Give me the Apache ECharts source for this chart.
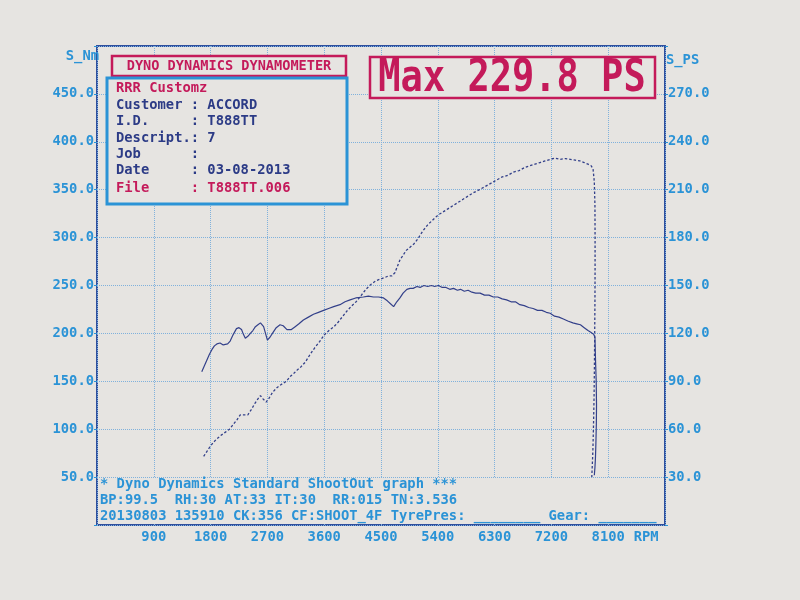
<!DOCTYPE html>
<html><head><meta charset="utf-8">
<script src="https://cdn.jsdelivr.net/npm/echarts@6/dist/echarts.min.js"></script>
<style>html,body{margin:0;padding:0;background:#e6e4e1}#c{width:800px;height:600px}</style>
</head><body><div id="c"></div>
<script>
// ---- data read from the dyno sheet ----
const torqueRpm = [
  1660,1700,1740,1780,1820,1860,1900,1950,2000,2030,
  2070,2110,2160,2210,2250,2290,2320,2350,2390,2430,
  2470,2510,2550,2590,2620,2640,2670,2700,2740,2790,
  2840,2900,2950,2980,3010,3040,3080,3140,3200,3270,
  3350,3430,3510,3590,3670,3750,3850,3930,4010,4100,
  4220,4300,4380,4460,4540,4600,4650,4700,4750,4800,
  4850,4910,4960,5010,5070,5120,5180,5240,5300,5350,
  5410,5470,5530,5590,5650,5710,5760,5820,5880,5940,
  6000,6070,6140,6210,6280,6350,6420,6490,6560,6630,
  6700,6770,6840,6910,6980,7050,7120,7180,7250,7320,
  7390,7460,7540,7600,7660,7720,7780,7830,7870,7890,
  7900,7910,7915,7912,7905,7898,7890,7880
];
const torqueNm = [
  160,166,172,178,183,187,189,190,188,187,
  189,192,199,205,206,204,199,195,197,200,
  203,207,209,211,210,207,200,193,196,201,
  206,209,208,207,204,202,204,207,210,214,
  217,220,222,224,226,228,230,233,235,237,
  238,239,238,238,237,234,231,228,233,237,
  242,246,247,247,249,248,250,249,250,249,
  250,248,248,246,247,245,246,244,245,243,
  242,242,240,240,238,238,236,235,233,233,
  230,229,227,226,224,224,222,221,218,217,
  215,213,211,210,209,206,203,201,199,196,
  170,150,125,105,85,70,60,52
];
const powerRpm = [
  1690,1740,1790,1850,1900,1960,2030,2100,2160,2220,
  2270,2330,2390,2440,2500,2550,2590,2630,2680,2720,
  2780,2850,2920,3000,3060,3120,3170,3230,3300,3380,
  3450,3530,3600,3680,3750,3820,3900,3960,4030,4110,
  4190,4270,4350,4420,4490,4560,4620,4670,4720,4760,
  4800,4850,4900,4960,5020,5080,5160,5240,5320,5400,
  5480,5560,5640,5720,5800,5880,5960,6060,6150,6240,
  6330,6420,6510,6600,6690,6780,6860,6940,7020,7100,
  7180,7260,7340,7420,7500,7580,7650,7720,7780,7830,
  7860,7880,7890,7892,7892,7890,7886,7882,7876,7866,
  7856,7840
];
const powerPs = [
  43,46,49,52,54,56,58,60,63,66,
  69,69,69,72,76,79,81,79,77,79,
  83,86,88,90,93,95,97,99,102,107,
  111,115,119,122,124,127,131,134,137,140,
  144,148,151,153,154,155,156,156,158,162,
  166,169,172,174,176,179,184,188,191,194,
  196,198,200,202,204,206,208,210,212,214,
  216,218,219,221,222,224,225,226,227,228,
  229,229.8,229,229.5,229,228.5,228,227,226,225,
  223,215,200,180,160,140,120,100,80,60,
  45,30
];
const infoLines = [
  ['RRR Customz', 'red'],
  ['Customer : ACCORD', 'navy'],
  ['I.D.     : T888TT', 'navy'],
  ['Descript.: 7', 'navy'],
  ['Job      :', 'navy'],
  ['Date     : 03-08-2013', 'navy'],
  ['File     : T888TT.006', 'red']
];
const footerLines = [
  '* Dyno Dynamics Standard ShootOut graph ***',
  'BP:99.5  RH:30 AT:33 IT:30  RR:015 TN:3.536',
  '20130803 135910 CK:356 CF:SHOOT_4F TyrePres: ________ Gear: _______'
];
const titleText = 'DYNO DYNAMICS DYNAMOMETER';
const maxText = 'Max 229.8 PS';

// ---- styles ----
const PAPER = '#e6e4e1';
const CYAN = '#2b93d6';
const RED = '#c41a5a';
const NAVY = '#2c3b86';
const FRAME = '#2f4f9e';
const GRID = '#80b1dc';
const INK = '#33408a';
const MONO = '"DejaVu Sans Mono", monospace';
const f = (s, b) => (b ? 'bold ' : '') + s + 'px ' + MONO;

const chart = echarts.init(document.getElementById('c'), null, {renderer: 'canvas'});
const labelStyle = {color: CYAN, fontFamily: MONO, fontSize: 13.8, fontWeight: 'bold'};

chart.setOption({
  backgroundColor: PAPER,
  animation: false,
  grid: {left: 97, right: 135, top: 46, bottom: 75, show: true, borderColor: FRAME, borderWidth: 2, backgroundColor: 'transparent'},
  xAxis: {
    type: 'value', min: 0, max: 9000, interval: 900,
    axisLine: {show: false}, axisTick: {show: false},
    splitLine: {show: true, lineStyle: {color: GRID, type: 'dotted', width: 1}},
    axisLabel: Object.assign({margin: 5, formatter: v => (v === 0 || v === 9000) ? '' : String(v)}, labelStyle)
  },
  yAxis: [
    {
      type: 'value', min: 0, max: 500, interval: 50, position: 'left',
      axisLine: {show: false},
      axisTick: {show: true, length: 3, lineStyle: {color: CYAN}},
      splitLine: {show: true, lineStyle: {color: GRID, type: 'dotted', width: 1}},
      axisLabel: Object.assign({margin: 3, formatter: v => (v === 0 || v === 500) ? '' : v.toFixed(1)}, labelStyle)
    },
    {
      type: 'value', min: 0, max: 300, interval: 30, position: 'right',
      axisLine: {show: false},
      axisTick: {show: true, length: 3, lineStyle: {color: CYAN}},
      splitLine: {show: false},
      axisLabel: Object.assign({margin: 3, formatter: v => (v === 0 || v === 300) ? '' : v.toFixed(1)}, labelStyle)
    }
  ],
  series: [
    {
      name: 'S_Nm', type: 'line', yAxisIndex: 0, showSymbol: false, symbol: 'none',
      data: torqueRpm.map((r, i) => [r, torqueNm[i]]),
      lineStyle: {color: INK, width: 1.2}, z: 5
    },
    {
      name: 'S_PS', type: 'line', yAxisIndex: 1, showSymbol: false, symbol: 'none',
      data: powerRpm.map((r, i) => [r, powerPs[i]]),
      lineStyle: {color: INK, width: 1.3, type: [2.5, 2]}, z: 5
    }
  ]
});

// ---- annotations ----
const x0 = chart.convertToPixel({xAxisIndex: 0}, 0);
const x1 = chart.convertToPixel({xAxisIndex: 0}, 9000);
const y50 = chart.convertToPixel({yAxisIndex: 0}, 50);
const y0 = chart.convertToPixel({yAxisIndex: 0}, 0);
const yTop = chart.convertToPixel({yAxisIndex: 0}, 500);
const x8100 = chart.convertToPixel({xAxisIndex: 0}, 8100);

const g = [];
// footer box
g.push({type: 'rect', z: 100, shape: {x: x0 + 1.5, y: y50 + 1, width: x1 - x0 - 3, height: y0 - y50 - 2.5}, style: {fill: PAPER, stroke: null}});
footerLines.forEach((t, i) => {
  g.push({type: 'text', z: 102, style: {text: t, x: x0 + 3, y: y50 + 7.5 + i * 16, font: f(13.8, true), fill: CYAN, align: 'left', verticalAlign: 'middle'}});
});
// title box
g.push({type: 'rect', z: 100, shape: {x: 112, y: 56, width: 234, height: 20}, style: {fill: PAPER, stroke: RED, lineWidth: 2.5}});
g.push({type: 'text', z: 101, style: {text: titleText, x: 229, y: 66.5, font: f(13.6, true), fill: RED, align: 'center', verticalAlign: 'middle'}});
// info box
g.push({type: 'rect', z: 100, shape: {x: 107, y: 78, width: 240, height: 126}, style: {fill: PAPER, stroke: CYAN, lineWidth: 3}});
const infoY = [88, 105, 121, 138, 154, 170, 188];
infoLines.forEach((l, i) => {
  g.push({type: 'text', z: 101, style: {text: l[0], x: 116, y: infoY[i], font: f(13.8, true), fill: l[1] === 'red' ? RED : NAVY, align: 'left', verticalAlign: 'middle'}});
});
// max box
g.push({type: 'rect', z: 100, shape: {x: 370, y: 57, width: 285, height: 41}, style: {fill: PAPER, stroke: RED, lineWidth: 2.5}});
g.push({type: 'text', z: 101, x: 512, y: 79, scaleY: 1.2, style: {text: maxText, x: 0, y: 0, font: f(37, true), fill: RED, align: 'center', verticalAlign: 'middle'}});
// axis names
g.push({type: 'text', z: 101, style: {text: 'S_Nm', x: x0 + 2, y: yTop + 10, font: f(13.8, true), fill: CYAN, align: 'right', verticalAlign: 'middle'}});
g.push({type: 'text', z: 101, style: {text: 'S_PS', x: x1 + 1, y: yTop + 14, font: f(13.8, true), fill: CYAN, align: 'left', verticalAlign: 'middle'}});
g.push({type: 'text', z: 101, style: {text: 'RPM', x: x8100 + 38, y: y0 + 12, font: f(13.8, true), fill: CYAN, align: 'center', verticalAlign: 'middle'}});

chart.setOption({graphic: g});
</script>
</body></html>
